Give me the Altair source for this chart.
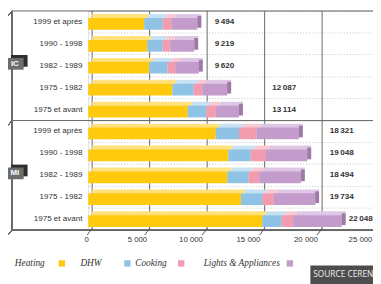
import altair as alt
import pandas as pd
import numpy as np

groups = ["IC", "MI"]
periods = ["1999 et après", "1990 - 1998", "1982 - 1989", "1975 - 1982", "1975 et avant"]
categories = ["Heating", "DHW", "Cooking", "Lights & Appliances"]
heating = [4870, 5130, 5290, 7310, 8650, 11090, 12180, 12100, 13280, 15130]
dhw = [1600, 1340, 1600, 1850, 1600, 2020, 1940, 1850, 1850, 1680]
cooking = [760, 670, 670, 760, 840, 1510, 1340, 920, 1000, 1010]
lights = [2264, 2079, 2060, 2167, 2024, 3701, 3588, 3624, 3604, 4228]
totals = [9494, 9219, 9620, 12087, 13114, 18321, 19048, 18494, 19734, 22048]
x_ticks = [0, 5000, 10000, 15000, 20000, 25000]
source_text = "SOURCE CEREN"

# styling
main_colors = ["#FFC90E", "#8EC3E6", "#F29CB0", "#C49CCB"]
top_colors = ["#FFE27E", "#C6E1F3", "#F8C8D3", "#DEC7E4"]
side_color = "#9E7AA6"
W, H = 291, 224
FONT = "Liberation Sans, Arial, sans-serif"
SERIF = "Liberation Serif, DejaVu Serif, serif"

row_ids = [f"{g} | {p}" for g in groups for p in periods]
series = [heating, dhw, cooking, lights]
seg = pd.DataFrame([
    {"row": r, "cat": c, "idx": k, "value": series[k][i]}
    for i, r in enumerate(row_ids) for k, c in enumerate(categories)
])
rows_df = pd.DataFrame({
    "row": row_ids,
    "group": [g for g in groups for p in periods],
    "period": [p for g in groups for p in periods],
    "total": totals,
})
rows_df["label"] = rows_df["total"].map(lambda v: f"{v:,}".replace(",", "\u2009"))
# value label sits in the grid column after the bar, or just past the bar end
col_pos = np.ceil(rows_df["total"] / 5000) * 5000 + 1000
rows_df["labelpos"] = np.where(col_pos > 25000, rows_df["total"] + 600, col_pos)
ticks_df = pd.DataFrame({"t": x_ticks})
mid_df = rows_df[rows_df["period"] == periods[2]]
first_df = rows_df[rows_df["period"] == periods[0]]

xs = alt.Scale(domain=[0, 25000], range=[0, 293.75], nice=False)
ys = alt.Scale(domain=row_ids, paddingInner=0, paddingOuter=0)
x_axis = alt.Axis(
    title=None, values=x_ticks, grid=False, domain=False, ticks=False,
    labelPadding=6, labelFontSize=8, labelColor="#333", labelFont=FONT,
    labelExpr="replace(format(datum.value, ','), ',', ' ')",
    labelOffset={"condition": [
        {"test": "datum.value === 0", "value": -2},
        {"test": "datum.value === 5000", "value": -9},
        {"test": "datum.value === 25000", "value": -16},
    ], "value": -13},
    labelFlush=False, labelOverlap=False,
)
y_axis = alt.Axis(
    title=None, labels=False, ticks=False, domain=False, grid=True,
    gridDash=[1, 2], gridColor="#c4c4c4", bandPosition=0,
)

def X(field):
    return alt.X(field, scale=xs, axis=x_axis)

Y = alt.Y("row:N", scale=ys, axis=y_axis)
Y0 = alt.Y("row:N", scale=ys, axis=y_axis, bandPosition=0)

grid_layer = alt.Chart(ticks_df).mark_rule(xOffset=4, color="#666", strokeWidth=1).encode(
    x=X("t:Q"), y=alt.value(0), y2=alt.value(H))

frame_v = alt.Chart(ticks_df).mark_rule(color="#666").encode(
    x=alt.value(-78), y=alt.value(0), y2=alt.value(H))
floor = alt.Chart(ticks_df).mark_rule(color="#666").encode(
    x=alt.value(-78), x2=alt.value(W), y=alt.value(H))
sep = alt.Chart(first_df).mark_rule(color="#666").encode(
    x=alt.value(-78), x2=alt.value(W), y=Y0)
diag = [
    alt.Chart(ticks_df).mark_rule(color="#666").encode(
        x=alt.value(-78), x2=alt.value(-82), y=alt.value(yy), y2=alt.value(yy + 5))
    for yy in (0, H / 2, H)
]
tick_layer = alt.Chart(ticks_df).mark_rule(xOffset=-1, x2Offset=4, color="#555").encode(
    x=X("t:Q"), x2="t:Q", y=alt.value(H + 5), y2=alt.value(H - 2))

top_layer = alt.Chart(seg).mark_bar(size=12, yOffset=-2, xOffset=4).encode(
    x=alt.X("value:Q", stack="zero", scale=xs, axis=x_axis), y=Y,
    color=alt.Color("cat:N", scale=alt.Scale(domain=categories, range=top_colors), legend=None),
    order=alt.Order("idx:Q"))
main_layer = alt.Chart(seg).mark_bar(size=12, yOffset=2).encode(
    x=alt.X("value:Q", stack="zero", scale=xs, axis=x_axis), y=Y,
    fill=alt.Fill("cat:N", scale=alt.Scale(domain=categories, range=main_colors), legend=None),
    order=alt.Order("idx:Q"))
side_layer = alt.Chart(rows_df).mark_bar(size=12, x2Offset=4, color=side_color).encode(
    x=X("total:Q"), x2="total:Q", y=Y)

row_labels = alt.Chart(rows_df).mark_text(align="right", baseline="middle", fontSize=8.2,
                                           font=FONT, color="#333").encode(
    x=alt.value(-6), y=Y, text="period:N")
val_labels = alt.Chart(rows_df).mark_text(align="left", baseline="middle", fontSize=8.3,
                                           fontWeight="bold", font=FONT, color="#333").encode(
    x=X("labelpos:Q"), y=Y, text="label:N")

cube_back = alt.Chart(mid_df).mark_bar(size=12, yOffset=-5, color="#2e2e2e").encode(
    x=alt.value(-79), x2=alt.value(-62), y=Y)
cube_front = alt.Chart(mid_df).mark_bar(size=12, yOffset=-2, color="#6d6d6d").encode(
    x=alt.value(-84), x2=alt.value(-66), y=Y)
cube_text = alt.Chart(mid_df).mark_text(fontSize=8, fontWeight="bold", font=FONT, color="white",
                                        yOffset=-2).encode(
    x=alt.value(-75), y=Y, text="group:N")

legend_layers = []
leg_text_x = [-75, -8, 48, 118]
leg_sw_x = [-27, 40, 95, 206]
for cat, tx, sx, col in zip(categories, leg_text_x, leg_sw_x, main_colors):
    legend_layers.append(alt.Chart(ticks_df.head(1)).mark_text(
        align="left", baseline="middle", fontSize=9.5, fontStyle="italic", font=SERIF,
        color="#333", text=cat).encode(x=alt.value(tx), y=alt.value(258)))
    legend_layers.append(alt.Chart(ticks_df.head(1)).mark_square(size=42, opacity=1, color=col).encode(
        x=alt.value(sx), y=alt.value(258)))

src_box = alt.Chart(ticks_df.head(1)).mark_rect(color="#4d4d4d").encode(
    x=alt.value(227), x2=alt.value(300), y=alt.value(260), y2=alt.value(285))
src_text = alt.Chart(ticks_df.head(1)).mark_text(align="left", baseline="middle", fontSize=8.5,
                                                 font="Open Sans, sans-serif", color="#f0f0f0",
                                                 text=source_text).encode(
    x=alt.value(230), y=alt.value(269))

chart = alt.layer(
    grid_layer, frame_v, floor, sep, *diag, tick_layer,
    top_layer, main_layer, side_layer,
    row_labels, val_labels, cube_back, cube_front, cube_text,
    *legend_layers, src_box, src_text,
).resolve_scale(color="independent").properties(
    width=W, height=H,
    padding={"left": 82, "top": 0, "right": 0, "bottom": 52},
    autosize=alt.AutoSizeParams(type="none"),
).configure_view(stroke=None).configure(background="white")

chart.save("out.html", embed_options={"renderer": "svg", "actions": False})
